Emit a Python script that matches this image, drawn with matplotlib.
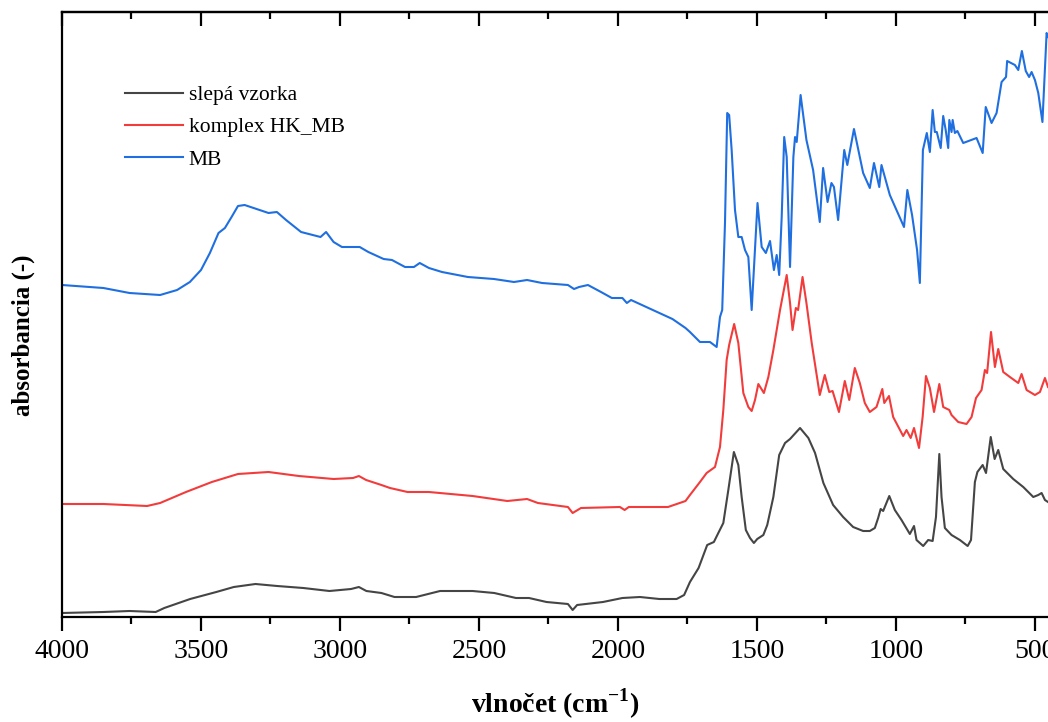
import matplotlib
matplotlib.use("Agg")
import matplotlib.pyplot as plt
from matplotlib.ticker import MultipleLocator, NullFormatter

plt.rcParams['font.family'] = ['Liberation Serif', 'DejaVu Serif']
plt.rcParams['mathtext.fontset'] = 'custom'
plt.rcParams['mathtext.rm'] = 'Liberation Serif'
plt.rcParams['mathtext.bf'] = 'Liberation Serif:bold'

labels = ["slepá vzorka", "komplex HK_MB", "MB"]
colors = ["#454545", "#f23c3c", "#1f6fe0"]

# ---- slepá vzorka (blank) ----
wn_blank = [4000, 3851, 3757, 3663, 3632, 3539, 3445, 3382, 3304, 3226, 3132, 3038,
            2960, 2932, 2905, 2851, 2804, 2726, 2640, 2523, 2445, 2367, 2320, 2257,
            2180, 2163, 2147, 2054, 1984, 1921, 1851, 1789, 1762, 1741, 1710, 1679,
            1655, 1639, 1621, 1603, 1583, 1567, 1555, 1540, 1525, 1511, 1499, 1477,
            1463, 1441, 1420, 1399, 1381, 1345, 1315, 1291, 1261, 1226, 1190, 1154,
            1118, 1094, 1076, 1064, 1055, 1046, 1024, 1004, 980, 950, 935, 926, 902,
            884, 868, 856, 844, 836, 824, 800, 770, 742, 730, 716, 707, 688, 676, 659,
            645, 632, 614, 578, 542, 506, 488, 476, 464, 453]
abs_blank = [0.04, 0.05, 0.06, 0.05, 0.09, 0.18, 0.25, 0.30, 0.33, 0.31, 0.29, 0.26,
             0.28, 0.30, 0.26, 0.24, 0.20, 0.20, 0.26, 0.26, 0.24, 0.19, 0.19, 0.15,
             0.13, 0.07, 0.12, 0.15, 0.19, 0.20, 0.18, 0.18, 0.22, 0.35, 0.49, 0.72,
             0.75, 0.84, 0.94, 1.27, 1.65, 1.52, 1.20, 0.87, 0.79, 0.74, 0.78, 0.82,
             0.92, 1.20, 1.62, 1.74, 1.78, 1.89, 1.79, 1.64, 1.34, 1.12, 1.00, 0.90,
             0.86, 0.86, 0.89, 0.99, 1.08, 1.06, 1.21, 1.07, 0.97, 0.83, 0.91, 0.77, 0.71,
             0.77, 0.76, 1.00, 1.63, 1.20, 0.89, 0.82, 0.77, 0.71, 0.77, 1.35, 1.45, 1.52, 1.44, 1.80,
             1.58, 1.67, 1.48, 1.38, 1.30, 1.20, 1.22, 1.24, 1.17, 1.15]

# ---- komplex HK_MB ----
wn_complex = [4000, 3851, 3694, 3647, 3554, 3461, 3367, 3257, 3148, 3023, 2953, 2932,
              2906, 2851, 2820, 2757, 2680, 2523, 2398, 2327, 2288, 2180, 2163, 2133,
              1993, 1976, 1961, 1820, 1757, 1741, 1705, 1681, 1651, 1633, 1621, 1609,
              1600, 1582, 1567, 1549, 1531, 1519, 1507, 1495, 1475, 1459, 1441, 1417,
              1393, 1381, 1372, 1360, 1352, 1336, 1322, 1303, 1274, 1256, 1240, 1228,
              1205, 1184, 1168, 1148, 1130, 1112, 1094, 1070, 1049, 1042, 1025, 1010,
              974, 962, 947, 935, 917, 904, 892, 878, 863, 844, 830, 808, 800, 776, 746,
              728, 712, 692, 680, 672, 658, 644, 632, 614, 590, 560, 548, 530, 500, 482,
              464, 453]
abs_complex = [1.13, 1.13, 1.11, 1.14, 1.25, 1.35, 1.43, 1.45, 1.41, 1.38, 1.39, 1.41,
               1.37, 1.32, 1.29, 1.25, 1.25, 1.21, 1.16, 1.18, 1.14, 1.10, 1.04, 1.09,
               1.10, 1.07, 1.10, 1.10, 1.16, 1.22, 1.35, 1.44, 1.50, 1.70, 2.07, 2.57,
               2.72, 2.93, 2.74, 2.24, 2.10, 2.06, 2.17, 2.33, 2.24, 2.40, 2.67, 3.07,
               3.42, 3.14, 2.87, 3.09, 3.07, 3.40, 3.14, 2.74, 2.22, 2.42, 2.25, 2.26,
               2.05, 2.36, 2.17, 2.49, 2.34, 2.14, 2.05, 2.10, 2.28, 2.14, 2.21, 2.00,
               1.81, 1.87, 1.79, 1.89, 1.69, 2.00, 2.41, 2.29, 2.05, 2.33, 2.10, 2.07, 2.02, 1.95, 1.93,
               2.00, 2.19, 2.27, 2.47, 2.44, 2.85, 2.50, 2.68, 2.45, 2.40, 2.34, 2.43, 2.27, 2.22, 2.25,
               2.39, 2.30]

# ---- MB ----
wn_mb = [4000, 3851, 3757, 3647, 3586, 3540, 3500, 3468, 3437, 3414, 3390, 3367, 3343,
         3257, 3227, 3194, 3140, 3070, 3050, 3023, 2993, 2929, 2898, 2843, 2813, 2766,
         2734, 2713, 2680, 2633, 2540, 2446, 2374, 2327, 2273, 2180, 2158, 2140, 2108,
         2061, 2022, 1984, 1968, 1953, 1898, 1804, 1757, 1741, 1705, 1669, 1645, 1633,
         1625, 1615, 1607, 1600, 1591, 1579, 1567, 1555, 1543, 1531, 1519, 1507, 1498,
         1483, 1468, 1453, 1439, 1429, 1420, 1411, 1402, 1393, 1381, 1369, 1363, 1357,
         1343, 1322, 1298, 1274, 1262, 1246, 1232, 1223, 1208, 1186, 1175, 1151, 1118,
         1094, 1079, 1060, 1052, 1022, 971, 959, 942, 924, 914, 903, 889, 878, 868, 860,
         853, 839, 830, 821, 812, 808, 800, 796, 788, 779, 758, 710, 688, 677, 656, 638,
         620, 604, 600, 572, 560, 547, 533, 521, 512, 500, 488, 473, 458, 453]
abs_mb = [3.32, 3.29, 3.24, 3.22, 3.27, 3.35, 3.47, 3.64, 3.84, 3.89, 4.00, 4.11, 4.12,
          4.04, 4.05, 3.97, 3.85, 3.80, 3.85, 3.75, 3.70, 3.70, 3.65, 3.58, 3.57, 3.50,
          3.50, 3.54, 3.49, 3.45, 3.40, 3.38, 3.35, 3.37, 3.34, 3.32, 3.28, 3.30, 3.32,
          3.25, 3.19, 3.19, 3.14, 3.17, 3.10, 2.98, 2.89, 2.85, 2.75, 2.75, 2.70, 3.00,
          3.07, 3.94, 5.04, 5.02, 4.67, 4.07, 3.80, 3.80, 3.67, 3.60, 3.07, 3.67, 4.14,
          3.70, 3.64, 3.76, 3.47, 3.62, 3.42, 4.00, 4.80, 4.60, 3.50, 4.60, 4.80, 4.75,
          5.22, 4.77, 4.47, 3.95, 4.49, 4.15, 4.34, 4.30, 3.97, 4.67, 4.52, 4.88, 4.44,
          4.29, 4.54, 4.30, 4.52, 4.22, 3.90, 4.27, 4.02, 3.67, 3.34, 4.67, 4.84, 4.65, 5.07, 4.85,
          4.85, 4.69, 5.01, 4.87, 4.69, 4.97, 4.85, 4.97, 4.84, 4.86, 4.74, 4.79, 4.64, 5.10, 4.94, 5.04,
          5.35, 5.40, 5.56, 5.52, 5.47, 5.66, 5.46, 5.40, 5.45, 5.37, 5.24, 4.95, 5.84, 5.80]

series = [(wn_blank, abs_blank), (wn_complex, abs_complex), (wn_mb, abs_mb)]

fig = plt.figure(figsize=(10.48, 7.22), dpi=100)
ax = fig.add_axes([62/1048, 105/722, 986/1048, 605/722])

for (x, y), lab, c in zip(series, labels, colors):
    ax.plot(x, y, color=c, lw=1.5, label=lab)

ax.set_xlim(4000, 453)
ax.set_ylim(0, 6.05)

for s in ['left', 'bottom', 'top']:
    ax.spines[s].set_linewidth(1.6)
ax.spines['right'].set_visible(False)

ax.xaxis.set_major_locator(MultipleLocator(500))
ax.xaxis.set_minor_locator(MultipleLocator(250))
ax.tick_params(axis='x', which='major', direction='out', length=10, width=1.6,
               labelsize=20, pad=6, top=False)
ax.tick_params(axis='x', which='minor', direction='out', length=5, width=1.6, top=False)
ax.set_yticks([])

sec = ax.secondary_xaxis('top')
sec.xaxis.set_major_locator(MultipleLocator(500))
sec.xaxis.set_minor_locator(MultipleLocator(250))
sec.xaxis.set_major_formatter(NullFormatter())
sec.tick_params(axis='x', which='major', direction='in', length=10, width=1.6)
sec.tick_params(axis='x', which='minor', direction='in', length=5, width=1.6)
sec.spines['top'].set_linewidth(1.6)

ax.set_xlabel(r'vlnočet (cm$^{\mathbf{-1}}$)', fontsize=20, fontweight='bold', labelpad=16)
ax.set_ylabel('absorbancia (-)', fontsize=18, fontweight='bold')
ax.yaxis.set_label_coords(-0.027, 0.465)

ax.legend(loc='upper left', bbox_to_anchor=(0.0639, 0.879), frameon=False,
          fontsize=15.5, handlelength=2.7, handletextpad=0.25, labelspacing=0.56,
          borderpad=0, borderaxespad=0)

fig.savefig('out.png', dpi=100)
